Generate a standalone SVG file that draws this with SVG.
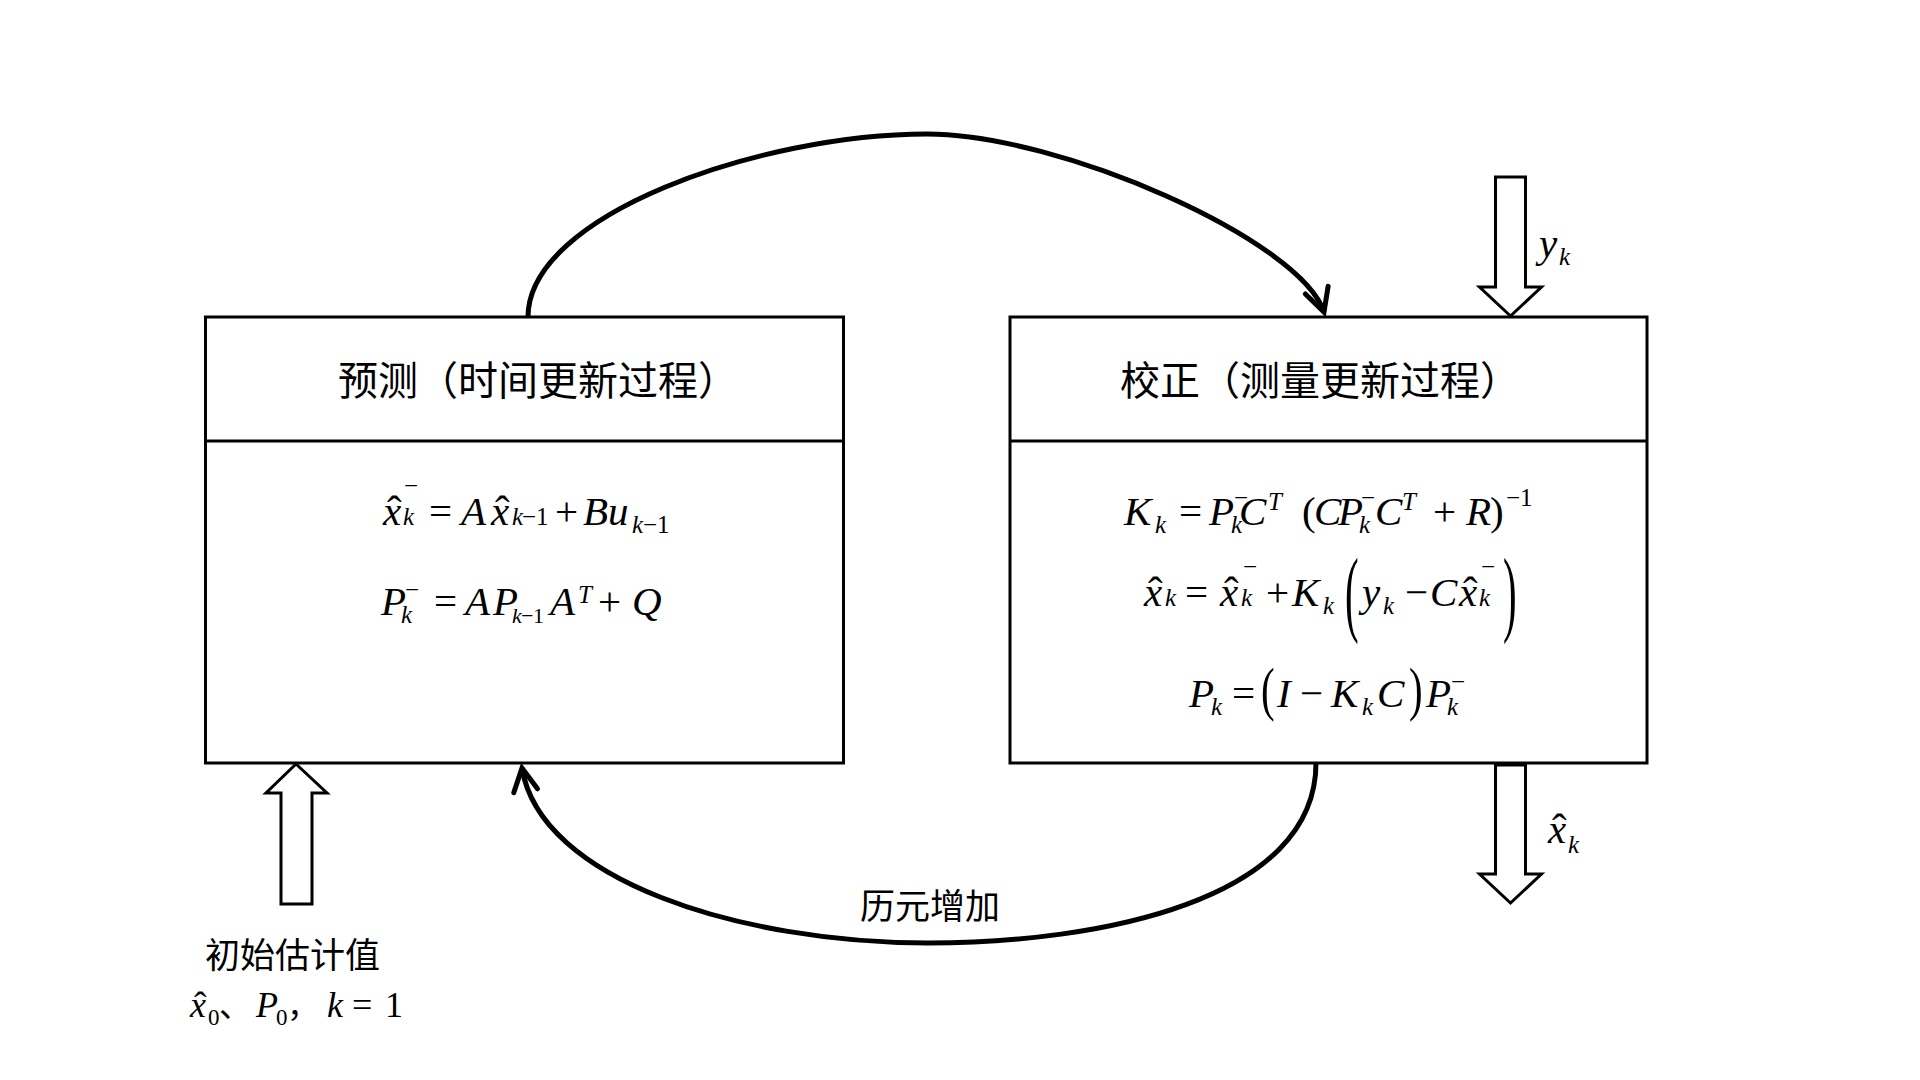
<svg xmlns="http://www.w3.org/2000/svg" width="1920" height="1080" viewBox="0 0 1920 1080">
<style>
.box{fill:#fff;stroke:#000;stroke-width:3}
.ln{stroke:#000;stroke-width:3}
.blk{fill:#fff;stroke:#000;stroke-width:3;stroke-linejoin:miter}
.arc{fill:none;stroke:#000;stroke-width:5}
.cn{font-family:"Noto Sans CJK SC","Noto Sans CJK JP",sans-serif;fill:#000}
.m{font-family:"Liberation Serif",serif;font-size:41px;fill:#000}
.i{font-style:italic}
.s{font-size:25px}
.t{font-size:22px}
.h{font-size:44px}
</style>
<defs>
<marker id="v" markerUnits="userSpaceOnUse" viewBox="-30 -16 34 32" refX="0" refY="0" markerWidth="34" markerHeight="32" orient="auto">
<path d="M-23,-12 L0,0 L-23,12" fill="none" stroke="#000" stroke-width="5" stroke-linecap="round" stroke-linejoin="miter"/>
</marker>
</defs>
<rect width="1920" height="1080" fill="#fff"/>

<g id="connectors">
<path class="arc" d="M528,317 C528,215 760,134 927,134 C1060,134 1300,240 1324,312" marker-end="url(#v)"/>
<path class="arc" d="M1316,763 C1316,900 1100,943 928,943 C740,943 540,880 522,768" marker-end="url(#v)"/>
</g>

<g id="predict">
<rect class="box" x="205.5" y="317" width="638" height="446"/>
<line class="ln" x1="205.5" y1="441" x2="843.5" y2="441"/>
<text class="cn" x="338" y="395" font-size="40">预测（时间更新过程）</text>
<text class="m">
<tspan class="i" x="383" y="525">x</tspan><tspan class="h" x="387" y="526">ˆ</tspan><tspan class="i s" x="403" y="525">k</tspan><tspan class="s" x="404" y="494">−</tspan>
<tspan x="429" y="525">=</tspan><tspan class="i" x="461" y="525">A</tspan><tspan class="i" x="491" y="525">x</tspan><tspan class="h" x="495" y="526">ˆ</tspan><tspan class="i s" x="512" y="525">k</tspan><tspan class="s" x="522" y="525">−1</tspan>
<tspan x="555" y="525">+</tspan><tspan class="i" x="583" y="525">B</tspan><tspan class="i" x="608" y="525">u</tspan><tspan class="i s" x="632" y="533">k</tspan><tspan class="s" x="643" y="533">−1</tspan>
</text>
<text class="m">
<tspan class="i" x="381" y="615">P</tspan><tspan class="i s" x="401" y="623">k</tspan><tspan class="s" x="405" y="598">−</tspan>
<tspan x="434" y="615">=</tspan><tspan class="i" x="465" y="615">A</tspan><tspan class="i" x="493" y="615">P</tspan><tspan class="i t" x="512" y="623">k</tspan><tspan class="t" x="521" y="623">−</tspan><tspan class="t" x="533" y="623">1</tspan>
<tspan class="i" x="550" y="615">A</tspan><tspan class="i s" x="578" y="603">T</tspan><tspan x="598" y="615">+</tspan><tspan class="i" x="632" y="615">Q</tspan>
</text>
</g>

<g id="correct">
<rect class="box" x="1010" y="317" width="637" height="446"/>
<line class="ln" x1="1010" y1="441" x2="1647" y2="441"/>
<text class="cn" x="1120" y="395" font-size="40">校正（测量更新过程）</text>
<text class="m">
<tspan class="i" x="1124" y="525">K</tspan><tspan class="i s" x="1155" y="533">k</tspan><tspan x="1179" y="525">=</tspan>
<tspan class="i" x="1209" y="525">P</tspan><tspan class="i s" x="1231" y="533">k</tspan><tspan class="s" x="1234" y="506">−</tspan><tspan class="i" x="1239" y="525">C</tspan><tspan class="i s" x="1268" y="510">T</tspan>
<tspan x="1302" y="525">(</tspan><tspan class="i" x="1314" y="525">C</tspan><tspan class="i" x="1338" y="525">P</tspan><tspan class="i s" x="1359" y="533">k</tspan><tspan class="s" x="1361" y="506">−</tspan><tspan class="i" x="1375" y="525">C</tspan><tspan class="i s" x="1402" y="510">T</tspan>
<tspan x="1433" y="525">+</tspan><tspan class="i" x="1466" y="525">R</tspan><tspan x="1490" y="525">)</tspan><tspan class="s" x="1506" y="506">−1</tspan>
</text>
<text class="m">
<tspan class="i" x="1144" y="606">x</tspan><tspan class="h" x="1148" y="607">ˆ</tspan><tspan class="i s" x="1165" y="606">k</tspan><tspan x="1185" y="606">=</tspan>
<tspan class="i" x="1220" y="606">x</tspan><tspan class="h" x="1224" y="607">ˆ</tspan><tspan class="i s" x="1241" y="606">k</tspan><tspan class="s" x="1243" y="575">−</tspan>
<tspan x="1266" y="606">+</tspan><tspan class="i" x="1292" y="606">K</tspan><tspan class="i s" x="1323" y="614">k</tspan>
<tspan class="i" x="1362" y="606">y</tspan><tspan class="i s" x="1383" y="614">k</tspan><tspan x="1405" y="606">−</tspan><tspan class="i" x="1430" y="606">C</tspan>
<tspan class="i" x="1459" y="606">x</tspan><tspan class="h" x="1463" y="607">ˆ</tspan><tspan class="i s" x="1479" y="606">k</tspan><tspan class="s" x="1481" y="575">−</tspan>
</text>
<text class="m" transform="translate(1345,624) scale(1,2.3)">(</text>
<text class="m" transform="translate(1503,624) scale(1,2.3)">)</text>
<text class="m">
<tspan class="i" x="1189" y="707">P</tspan><tspan class="i s" x="1211" y="715">k</tspan><tspan x="1232" y="707">=</tspan>
<tspan class="i" x="1277" y="707">I</tspan><tspan x="1300" y="707">−</tspan><tspan class="i" x="1331" y="707">K</tspan><tspan class="i s" x="1362" y="715">k</tspan><tspan class="i" x="1377" y="707">C</tspan>
<tspan class="i" x="1426" y="707">P</tspan><tspan class="i s" x="1447" y="715">k</tspan><tspan class="s" x="1451" y="690">−</tspan>
</text>
<text class="m" transform="translate(1261,709) scale(1,1.45)">(</text>
<text class="m" transform="translate(1409,709) scale(1,1.45)">)</text>
</g>

<g id="measurement">
<polygon class="blk" points="1495.5,177 1525.5,177 1525.5,287 1541.5,287 1510.5,316 1479.5,287 1495.5,287"/>
<text class="m"><tspan class="i" x="1539" y="257">y</tspan><tspan class="i s" x="1559" y="265">k</tspan></text>
</g>

<g id="output">
<polygon class="blk" points="1495.5,765 1525.5,765 1525.5,874 1541.5,874 1510.5,903 1479.5,874 1495.5,874"/>
<text class="m"><tspan class="i" x="1548" y="843">x</tspan><tspan class="h" x="1552" y="844">ˆ</tspan><tspan class="i s" x="1568" y="853">k</tspan></text>
</g>

<g id="init">
<polygon class="blk" points="296,764 327,793 312,793 312,904 281,904 281,793 266,793"/>
<text class="cn" x="205" y="968" font-size="35">初始估计值</text>
<text class="m" font-size="36">
<tspan class="i" x="190" y="1017" font-size="36">x</tspan><tspan x="194" y="1018" font-size="38">ˆ</tspan><tspan x="208" y="1025" font-size="23">0</tspan>
<tspan class="cn" x="219" y="1017" font-size="32">、</tspan><tspan class="i" x="256" y="1017" font-size="36">P</tspan><tspan x="276" y="1025" font-size="23">0</tspan>
<tspan class="cn" x="287" y="1017" font-size="32">，</tspan><tspan class="i" x="327" y="1017" font-size="36">k</tspan><tspan x="352" y="1017" font-size="36">=</tspan><tspan x="385" y="1017" font-size="36">1</tspan>
</text>
</g>

<g id="epoch-label">
<text class="cn" x="930" y="919" font-size="35" text-anchor="middle">历元增加</text>
</g>
</svg>
